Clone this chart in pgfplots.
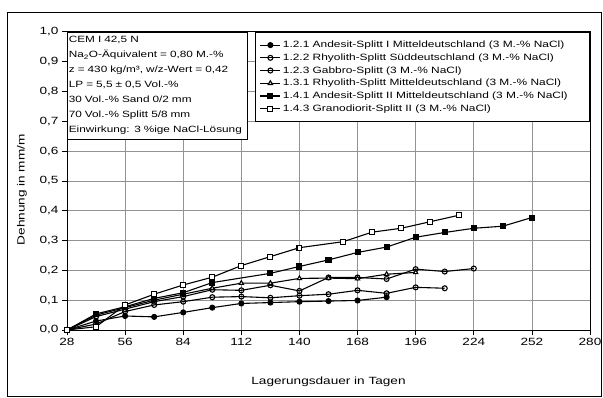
\documentclass[border=0pt]{standalone}
\usepackage{pgfplots}
\pgfplotsset{compat=1.18}
\usepackage{fontspec}
\setmainfont[FakeStretch=1.3]{Liberation Sans}
\begin{document}
\begin{tikzpicture}[x=1bp,y=1bp]
\useasboundingbox (0,0) rectangle (603,397);
\draw[line width=0.8pt] (7,1) rectangle (601,385);
\begin{axis}[
  at={(67bp,67bp)}, anchor=south west,
  scale only axis, width=523bp, height=298.3bp,
  xmin=28, xmax=280, ymin=0, ymax=1,
  xtick={28,56,84,112,140,168,196,224,252,280},
  ytick={0,0.1,0.2,0.3,0.4,0.5,0.6,0.7,0.8,0.9,1},
  yticklabel style={/pgf/number format/.cd, fixed, fixed zerofill, precision=1, use comma, assume math mode=true},
  xticklabel style={/pgf/number format/assume math mode=true},
  ticklabel style={font=\fontsize{10.5}{12}\selectfont},
  grid=major,
  major grid style={gray!85, line width=0.7pt},
  axis line style={line width=1pt},
  tick align=outside, tick pos=left,
  major tick length=5bp,
  tick style={black, line width=0.7pt},
  xlabel={Lagerungsdauer in Tagen},
  ylabel={Dehnung in mm/m},
  label style={font=\fontsize{10.5}{12}\selectfont},
  x label style={at={(axis description cs:0.5,-0.175)}, anchor=center},
  y label style={at={(axis description cs:-0.086,0.47)}, anchor=center},
  legend style={at={(1,1)}, anchor=north east, draw=black, fill=white,
    font=\fontsize{9.2}{10.5}\selectfont, row sep=0.6pt, inner xsep=4pt, inner ysep=7pt,
    cells={anchor=west}, line width=0.7pt},
  legend cell align=left,
  legend image code/.code={\draw[mark repeat=2,mark phase=2,#1] plot coordinates {(0bp,0bp) (10bp,0bp) (20bp,0bp)};},
  every axis plot/.append style={black, line width=1.1pt, mark size=2.5pt, mark options={solid, line width=0.8pt}},
]
\addplot[mark=*, mark options={fill=black}] coordinates {
(28,0) (42,0.030) (56,0.047) (70,0.044) (84,0.059) (98,0.075) (112,0.089) (126,0.092) (140,0.095) (154,0.097) (168,0.099) (182,0.110)};
\addlegendentry{1.2.1 Andesit-Splitt I Mitteldeutschland (3 M.-\% NaCl)}
\addplot[mark=o, mark options={fill=white}] coordinates {
(28,0) (42,0.020) (56,0.062) (70,0.084) (84,0.095) (98,0.110) (112,0.112) (126,0.108) (140,0.115) (154,0.120) (168,0.133) (182,0.123) (196,0.143) (210,0.140)};
\addlegendentry{1.2.2 Rhyolith-Splitt Süddeutschland (3 M.-\% NaCl)}
\addplot[mark=o, mark options={fill=white}] coordinates {
(28,0) (42,0.045) (56,0.070) (70,0.095) (84,0.112) (98,0.135) (112,0.133) (126,0.150) (140,0.131) (154,0.176) (168,0.176) (182,0.171) (196,0.204) (210,0.196) (224,0.206)};
\addlegendentry{1.2.3 Gabbro-Splitt (3 M.-\% NaCl)}
\addplot[mark=triangle*, mark options={fill=white}] coordinates {
(28,0) (42,0.050) (56,0.075) (70,0.100) (84,0.120) (98,0.140) (112,0.157) (126,0.157) (140,0.173) (154,0.174) (168,0.172) (182,0.187) (196,0.193)};
\addlegendentry{1.3.1 Rhyolith-Splitt Mitteldeutschland (3 M.-\% NaCl)}
\addplot[mark=square*, mark options={fill=black}] coordinates {
(28,0) (42,0.054) (56,0.078) (70,0.106) (84,0.125) (98,0.159) (126,0.190) (140,0.213) (154,0.235) (168,0.260) (182,0.278) (196,0.311) (210,0.327) (224,0.341) (238,0.348) (252,0.377)};
\addlegendentry{1.4.1 Andesit-Splitt II Mitteldeutschland (3 M.-\% NaCl)\hspace*{16bp}}
\addplot[mark=square*, mark options={fill=white}] coordinates {
(28,0) (42,0.011) (56,0.084) (70,0.120) (84,0.151) (98,0.177) (112,0.216) (126,0.246) (140,0.276) (161,0.296) (175,0.328) (189,0.341) (203,0.363) (217,0.385)};
\addlegendentry{1.4.3 Granodiorit-Splitt II (3 M.-\% NaCl)}
\node[draw=black, fill=white, line width=0.7pt, anchor=north west, align=left,
  font=\fontsize{9.1}{15}\selectfont, inner xsep=1.5pt, inner ysep=4.5pt,
  text width=177bp] at (rel axis cs:0,1) {CEM I 42,5 N\\
Na\textsubscript{2}O-Äquivalent = 0,80 M.-\%\\
z = 430 kg/m³, w/z-Wert = 0,42\\
LP = 5,5 ± 0,5 Vol.-\%\\
30 Vol.-\% Sand 0/2 mm\\
70 Vol.-\% Splitt 5/8 mm\\
Einwirkung: 3 \%ige NaCl-Lösung};
\end{axis}
\end{tikzpicture}
\end{document}
